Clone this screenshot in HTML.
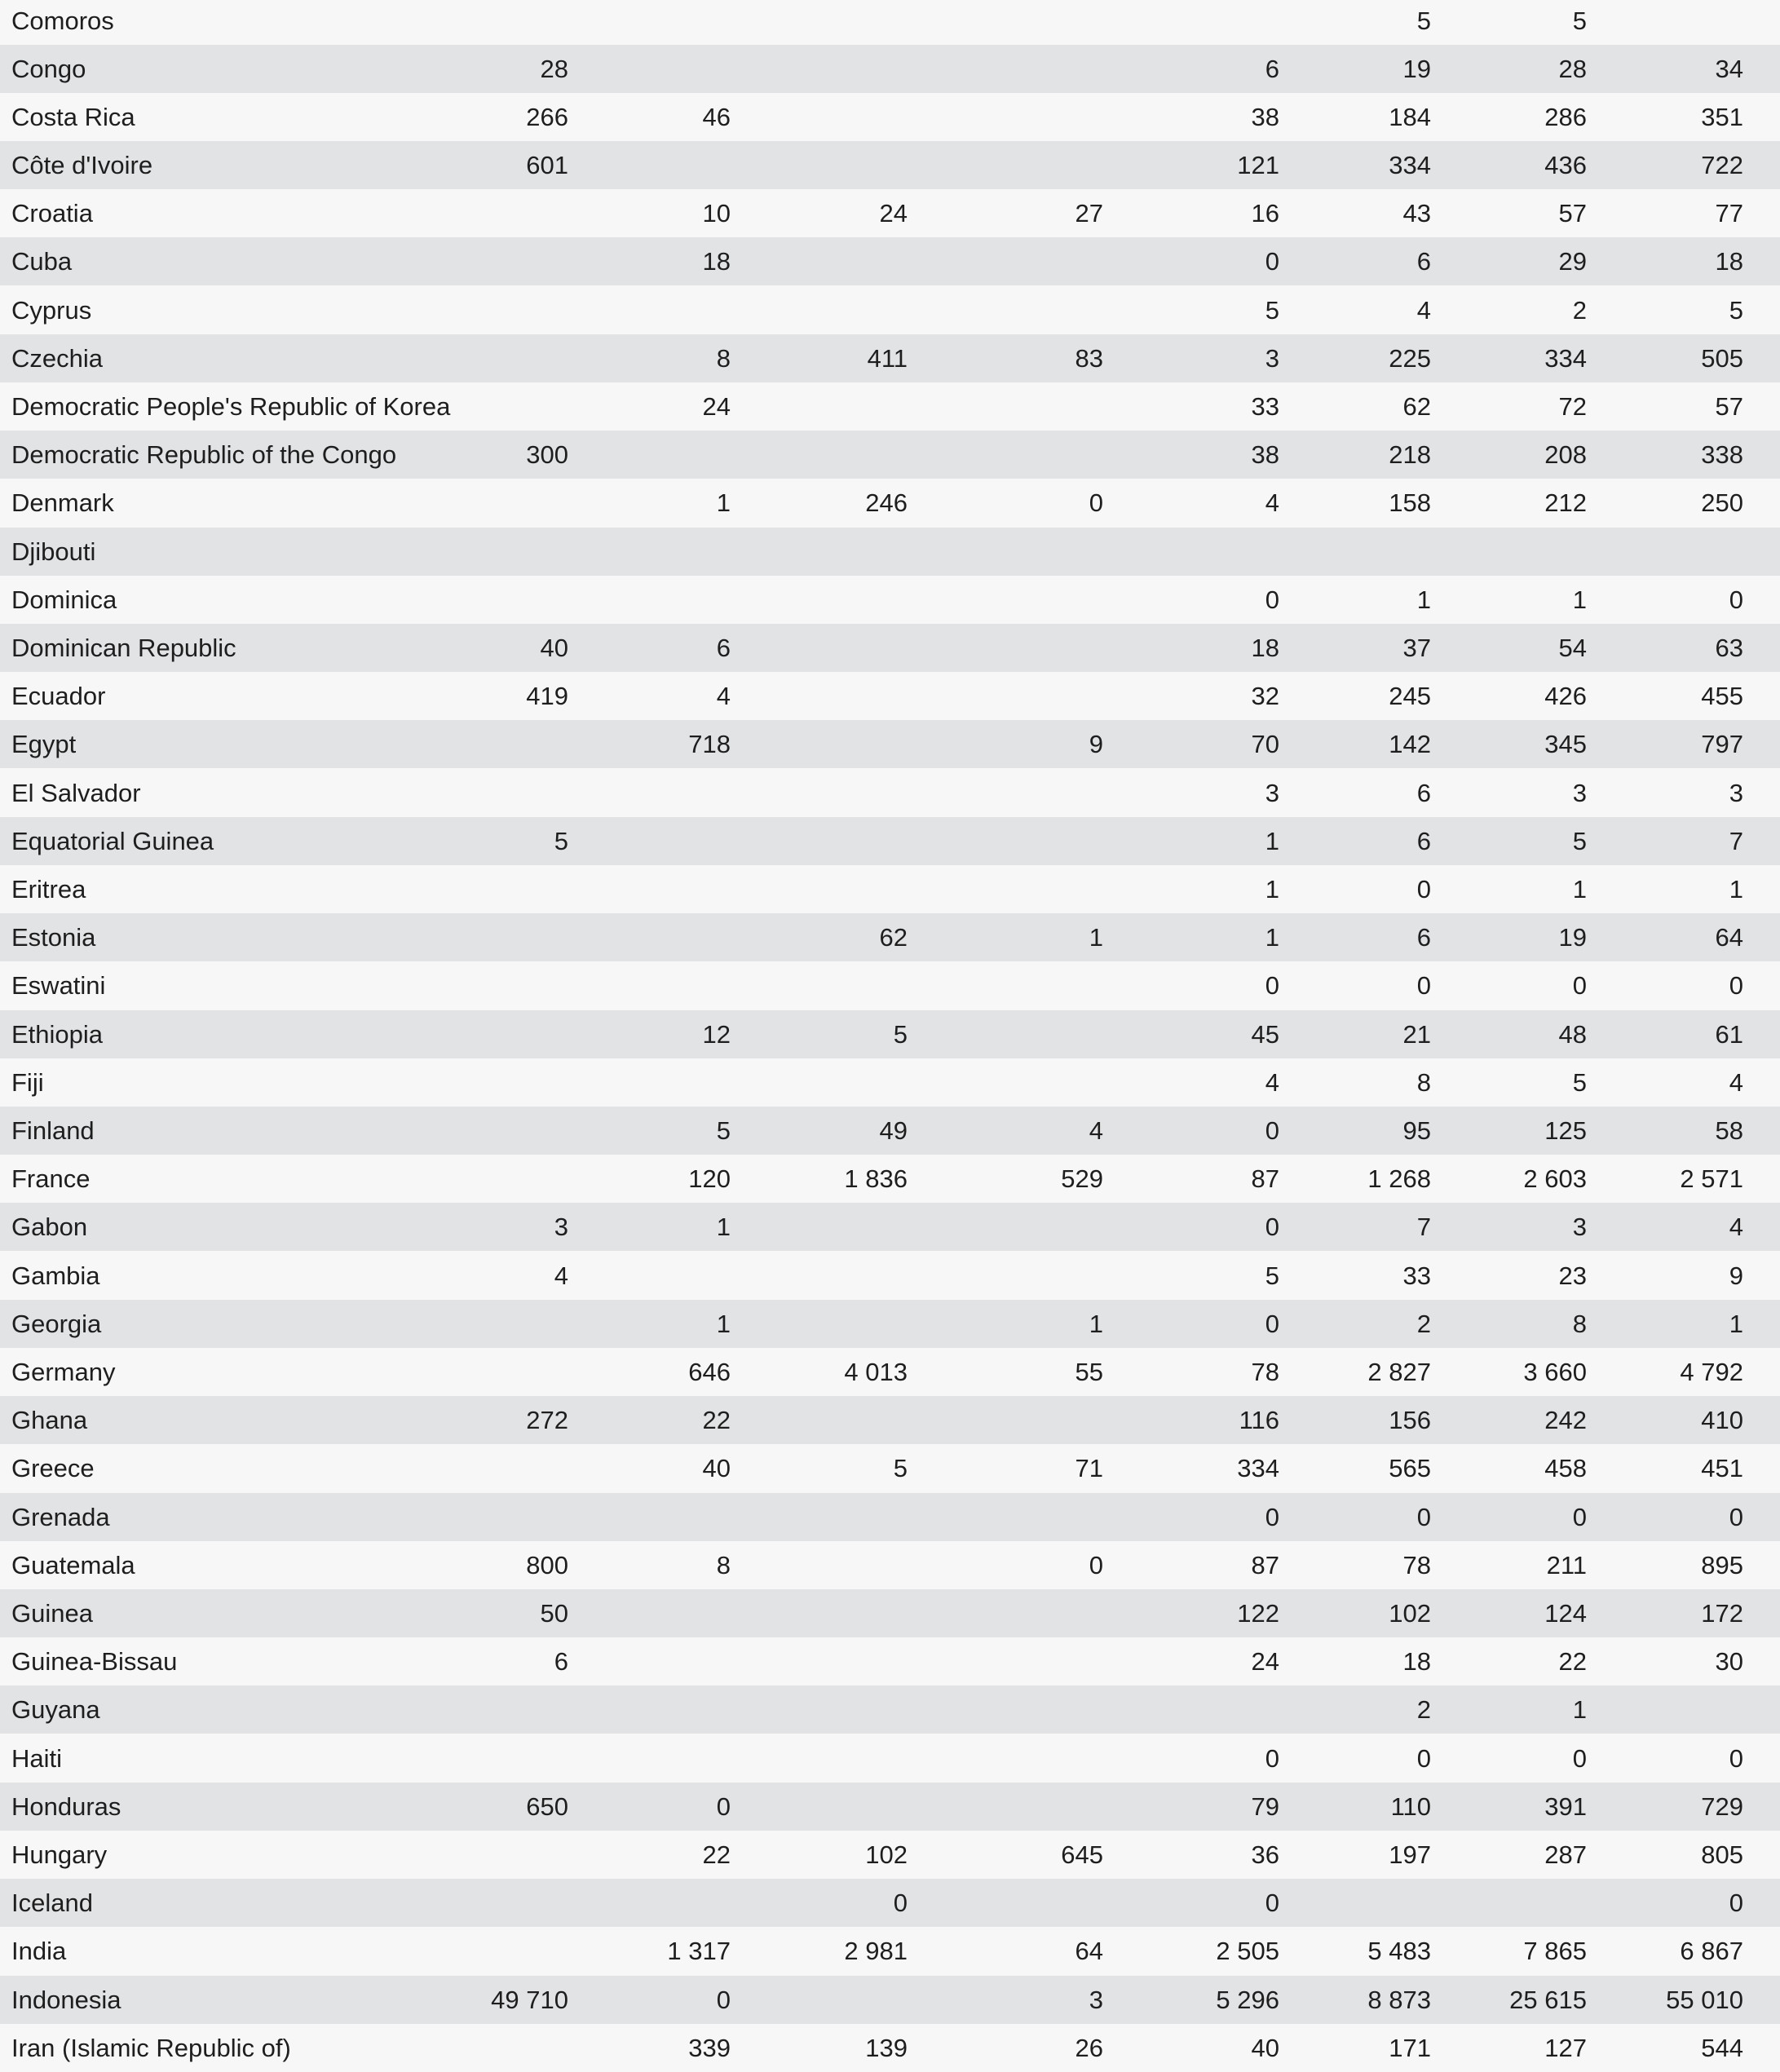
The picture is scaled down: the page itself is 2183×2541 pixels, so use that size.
<!DOCTYPE html>
<html><head><meta charset="utf-8"><style>
html,body{margin:0;padding:0;width:2183px;height:2541px;background:#f7f7f7;overflow:hidden}
body{position:relative;font-family:"Liberation Sans",sans-serif;font-size:31px;color:#1e1e1e}
.r{position:absolute;left:0;width:2183px;height:59px;line-height:59px}
.g{background:#e2e3e5}
.r span{position:absolute;top:0;white-space:nowrap}
.r span:nth-child(1){left:14px}
.c1{right:calc(2183px - 697px)}.c2{right:calc(2183px - 896px)}.c3{right:calc(2183px - 1113px)}.c4{right:calc(2183px - 1353px)}
.c5{right:calc(2183px - 1569px)}.c6{right:calc(2183px - 1755px)}.c7{right:calc(2183px - 1946px)}.c8{right:calc(2183px - 2138px)}
</style></head><body>
<div class="r" style="top:-4px"><span>Comoros</span><span class="c6">5</span><span class="c7">5</span></div>
<div class="r g" style="top:55px"><span>Congo</span><span class="c1">28</span><span class="c5">6</span><span class="c6">19</span><span class="c7">28</span><span class="c8">34</span></div>
<div class="r" style="top:114px"><span>Costa Rica</span><span class="c1">266</span><span class="c2">46</span><span class="c5">38</span><span class="c6">184</span><span class="c7">286</span><span class="c8">351</span></div>
<div class="r g" style="top:173px"><span>Côte d'Ivoire</span><span class="c1">601</span><span class="c5">121</span><span class="c6">334</span><span class="c7">436</span><span class="c8">722</span></div>
<div class="r" style="top:232px"><span>Croatia</span><span class="c2">10</span><span class="c3">24</span><span class="c4">27</span><span class="c5">16</span><span class="c6">43</span><span class="c7">57</span><span class="c8">77</span></div>
<div class="r g" style="top:291px"><span>Cuba</span><span class="c2">18</span><span class="c5">0</span><span class="c6">6</span><span class="c7">29</span><span class="c8">18</span></div>
<div class="r" style="top:351px"><span>Cyprus</span><span class="c5">5</span><span class="c6">4</span><span class="c7">2</span><span class="c8">5</span></div>
<div class="r g" style="top:410px"><span>Czechia</span><span class="c2">8</span><span class="c3">411</span><span class="c4">83</span><span class="c5">3</span><span class="c6">225</span><span class="c7">334</span><span class="c8">505</span></div>
<div class="r" style="top:469px"><span>Democratic People's Republic of Korea</span><span class="c2">24</span><span class="c5">33</span><span class="c6">62</span><span class="c7">72</span><span class="c8">57</span></div>
<div class="r g" style="top:528px"><span>Democratic Republic of the Congo</span><span class="c1">300</span><span class="c5">38</span><span class="c6">218</span><span class="c7">208</span><span class="c8">338</span></div>
<div class="r" style="top:587px"><span>Denmark</span><span class="c2">1</span><span class="c3">246</span><span class="c4">0</span><span class="c5">4</span><span class="c6">158</span><span class="c7">212</span><span class="c8">250</span></div>
<div class="r g" style="top:647px"><span>Djibouti</span></div>
<div class="r" style="top:706px"><span>Dominica</span><span class="c5">0</span><span class="c6">1</span><span class="c7">1</span><span class="c8">0</span></div>
<div class="r g" style="top:765px"><span>Dominican Republic</span><span class="c1">40</span><span class="c2">6</span><span class="c5">18</span><span class="c6">37</span><span class="c7">54</span><span class="c8">63</span></div>
<div class="r" style="top:824px"><span>Ecuador</span><span class="c1">419</span><span class="c2">4</span><span class="c5">32</span><span class="c6">245</span><span class="c7">426</span><span class="c8">455</span></div>
<div class="r g" style="top:883px"><span>Egypt</span><span class="c2">718</span><span class="c4">9</span><span class="c5">70</span><span class="c6">142</span><span class="c7">345</span><span class="c8">797</span></div>
<div class="r" style="top:943px"><span>El Salvador</span><span class="c5">3</span><span class="c6">6</span><span class="c7">3</span><span class="c8">3</span></div>
<div class="r g" style="top:1002px"><span>Equatorial Guinea</span><span class="c1">5</span><span class="c5">1</span><span class="c6">6</span><span class="c7">5</span><span class="c8">7</span></div>
<div class="r" style="top:1061px"><span>Eritrea</span><span class="c5">1</span><span class="c6">0</span><span class="c7">1</span><span class="c8">1</span></div>
<div class="r g" style="top:1120px"><span>Estonia</span><span class="c3">62</span><span class="c4">1</span><span class="c5">1</span><span class="c6">6</span><span class="c7">19</span><span class="c8">64</span></div>
<div class="r" style="top:1179px"><span>Eswatini</span><span class="c5">0</span><span class="c6">0</span><span class="c7">0</span><span class="c8">0</span></div>
<div class="r g" style="top:1239px"><span>Ethiopia</span><span class="c2">12</span><span class="c3">5</span><span class="c5">45</span><span class="c6">21</span><span class="c7">48</span><span class="c8">61</span></div>
<div class="r" style="top:1298px"><span>Fiji</span><span class="c5">4</span><span class="c6">8</span><span class="c7">5</span><span class="c8">4</span></div>
<div class="r g" style="top:1357px"><span>Finland</span><span class="c2">5</span><span class="c3">49</span><span class="c4">4</span><span class="c5">0</span><span class="c6">95</span><span class="c7">125</span><span class="c8">58</span></div>
<div class="r" style="top:1416px"><span>France</span><span class="c2">120</span><span class="c3">1 836</span><span class="c4">529</span><span class="c5">87</span><span class="c6">1 268</span><span class="c7">2 603</span><span class="c8">2 571</span></div>
<div class="r g" style="top:1475px"><span>Gabon</span><span class="c1">3</span><span class="c2">1</span><span class="c5">0</span><span class="c6">7</span><span class="c7">3</span><span class="c8">4</span></div>
<div class="r" style="top:1535px"><span>Gambia</span><span class="c1">4</span><span class="c5">5</span><span class="c6">33</span><span class="c7">23</span><span class="c8">9</span></div>
<div class="r g" style="top:1594px"><span>Georgia</span><span class="c2">1</span><span class="c4">1</span><span class="c5">0</span><span class="c6">2</span><span class="c7">8</span><span class="c8">1</span></div>
<div class="r" style="top:1653px"><span>Germany</span><span class="c2">646</span><span class="c3">4 013</span><span class="c4">55</span><span class="c5">78</span><span class="c6">2 827</span><span class="c7">3 660</span><span class="c8">4 792</span></div>
<div class="r g" style="top:1712px"><span>Ghana</span><span class="c1">272</span><span class="c2">22</span><span class="c5">116</span><span class="c6">156</span><span class="c7">242</span><span class="c8">410</span></div>
<div class="r" style="top:1771px"><span>Greece</span><span class="c2">40</span><span class="c3">5</span><span class="c4">71</span><span class="c5">334</span><span class="c6">565</span><span class="c7">458</span><span class="c8">451</span></div>
<div class="r g" style="top:1831px"><span>Grenada</span><span class="c5">0</span><span class="c6">0</span><span class="c7">0</span><span class="c8">0</span></div>
<div class="r" style="top:1890px"><span>Guatemala</span><span class="c1">800</span><span class="c2">8</span><span class="c4">0</span><span class="c5">87</span><span class="c6">78</span><span class="c7">211</span><span class="c8">895</span></div>
<div class="r g" style="top:1949px"><span>Guinea</span><span class="c1">50</span><span class="c5">122</span><span class="c6">102</span><span class="c7">124</span><span class="c8">172</span></div>
<div class="r" style="top:2008px"><span>Guinea-Bissau</span><span class="c1">6</span><span class="c5">24</span><span class="c6">18</span><span class="c7">22</span><span class="c8">30</span></div>
<div class="r g" style="top:2067px"><span>Guyana</span><span class="c6">2</span><span class="c7">1</span></div>
<div class="r" style="top:2127px"><span>Haiti</span><span class="c5">0</span><span class="c6">0</span><span class="c7">0</span><span class="c8">0</span></div>
<div class="r g" style="top:2186px"><span>Honduras</span><span class="c1">650</span><span class="c2">0</span><span class="c5">79</span><span class="c6">110</span><span class="c7">391</span><span class="c8">729</span></div>
<div class="r" style="top:2245px"><span>Hungary</span><span class="c2">22</span><span class="c3">102</span><span class="c4">645</span><span class="c5">36</span><span class="c6">197</span><span class="c7">287</span><span class="c8">805</span></div>
<div class="r g" style="top:2304px"><span>Iceland</span><span class="c3">0</span><span class="c5">0</span><span class="c8">0</span></div>
<div class="r" style="top:2363px"><span>India</span><span class="c2">1 317</span><span class="c3">2 981</span><span class="c4">64</span><span class="c5">2 505</span><span class="c6">5 483</span><span class="c7">7 865</span><span class="c8">6 867</span></div>
<div class="r g" style="top:2423px"><span>Indonesia</span><span class="c1">49 710</span><span class="c2">0</span><span class="c4">3</span><span class="c5">5 296</span><span class="c6">8 873</span><span class="c7">25 615</span><span class="c8">55 010</span></div>
<div class="r" style="top:2482px"><span>Iran (Islamic Republic of)</span><span class="c2">339</span><span class="c3">139</span><span class="c4">26</span><span class="c5">40</span><span class="c6">171</span><span class="c7">127</span><span class="c8">544</span></div>
</body></html>
